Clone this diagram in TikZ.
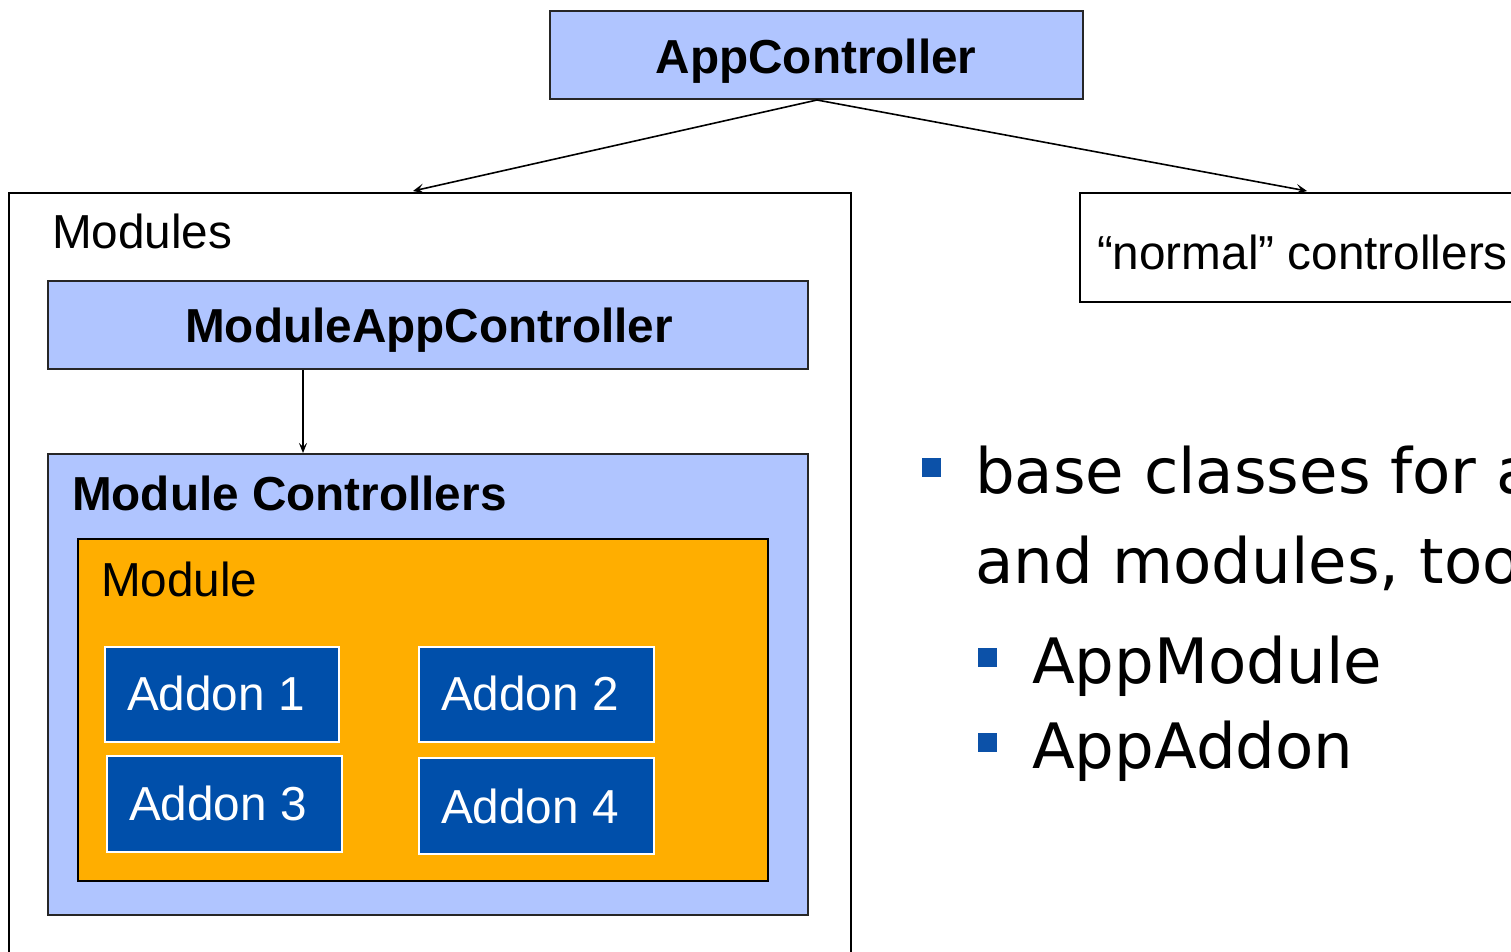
\documentclass[tikz,border=0pt]{standalone}
\usepackage{fontspec}
\setmainfont{Liberation Sans}
\newfontfamily\bulletfont{DejaVu Sans}
\usetikzlibrary{arrows.meta}
\definecolor{lblue}{HTML}{B0C5FF}
\definecolor{morange}{HTML}{FFAE00}
\definecolor{addonblue}{HTML}{004FAA}
\definecolor{bulblue}{HTML}{0C51A8}
\tikzset{
  boxnode/.style={rectangle, inner sep=0pt, outer sep=0pt, anchor=north west, line width=2pt},
  lbox/.style={boxnode, draw=black!85, fill=lblue},
  wbox/.style={boxnode, draw=black, fill=white},
  obox/.style={boxnode, draw=black, fill=morange},
  abox/.style={boxnode, draw=white, fill=addonblue},
  lbl/.style={inner sep=0pt, outer sep=0pt, font=\fontsize{47.7}{57}\selectfont},
  blbl/.style={lbl, font=\fontsize{47.7}{57}\selectfont\bfseries},
  albl/.style={lbl, text=white, anchor=base west},
  btxt/.style={inner sep=0pt, outer sep=0pt, anchor=base west, font=\bulletfont\fontsize{62.6}{75}\selectfont},
  bsq/.style={rectangle, fill=bulblue, inner sep=0pt, minimum width=19pt, minimum height=19pt, anchor=north west},
  conn/.style={line width=1.6pt, -{Stealth[length=11pt,width=10pt,inset=5pt]}},
  thinconn/.style={line width=1.1pt, -{Stealth[length=10pt,width=8pt,inset=4pt]}},
}
\begin{document}
\begin{tikzpicture}[x=1pt,y=-1pt]
\useasboundingbox (0,0) rectangle (1511,951);
\clip (0,0) rectangle (1511,951);
\fill[white] (0,0) rectangle (1511,951);
% boxes
\node[lbox, minimum width=533pt, minimum height=88pt] (app) at (550,11) {};
\node[blbl, anchor=base] (applbl) at (816,73) {AppController};
\node[wbox, minimum width=842pt, minimum height=780pt] (modules) at (9,193) {};
\node[lbl, anchor=base west] (modlbl) at (52,248) {Modules};
\node[wbox, minimum width=450pt, minimum height=109pt] (normal) at (1080,193) {};
\node[lbl, anchor=base west] (normallbl) at (1097,269) {“normal” controllers};
\node[lbox, minimum width=760pt, minimum height=88pt] (mac) at (48,281) {};
\node[blbl, anchor=base] (maclbl) at (429,342) {ModuleAppController};
\node[lbox, minimum width=760pt, minimum height=461pt] (mc) at (48,454) {};
\node[blbl, anchor=base west] (mclbl) at (72,510) {Module Controllers};
\node[obox, minimum width=690pt, minimum height=342pt] (module) at (78,539) {};
\node[lbl, anchor=base west] (modulelbl) at (101,596) {Module};
\node[abox, minimum width=234pt, minimum height=95pt] (a1) at (105,647) {};
\node[albl] (a1l) at (127,710) {Addon 1};
\node[abox, minimum width=235pt, minimum height=95pt] (a2) at (419,647) {};
\node[albl] (a2l) at (441,710) {Addon 2};
\node[abox, minimum width=235pt, minimum height=96pt] (a3) at (107,756) {};
\node[albl] (a3l) at (129,820) {Addon 3};
\node[abox, minimum width=235pt, minimum height=96pt] (a4) at (419,758) {};
\node[albl] (a4l) at (441,823) {Addon 4};
% connectors
\coordinate (appb) at (817,100);
\coordinate (modt) at (413,191);
\coordinate (normt) at (1307,191);
\draw[conn] (appb) -- (modt);
\draw[conn] (appb) -- (normt);
\coordinate (macb) at (303,370);
\coordinate (mct) at (303,453);
\draw[thinconn] (macb) -- (mct);
% bullets
\node[bsq] (b1) at (922,458) {};
\node[btxt] (t1) at (975,493) {base classes for a};
\node[btxt] (t2) at (975,583) {and modules, too};
\node[bsq] (b2) at (978,648) {};
\node[btxt] (t3) at (1032,683) {AppModule};
\node[bsq] (b3) at (978,733) {};
\node[btxt] (t4) at (1032,768) {AppAddon};
\end{tikzpicture}
\end{document}
